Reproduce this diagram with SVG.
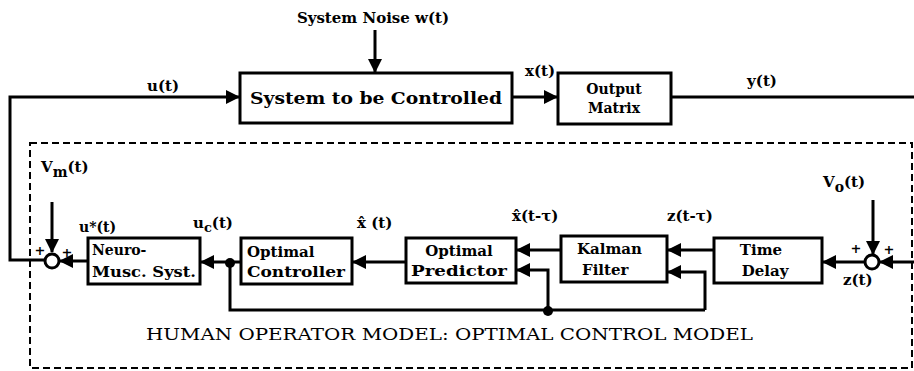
<svg xmlns="http://www.w3.org/2000/svg" width="914" height="371" viewBox="0 0 914 371">
<style>
text{font-family:"DejaVu Serif","Liberation Serif",serif;font-weight:bold;fill:#000}
.bx{fill:#fff;stroke:#000;stroke-width:3}
.ln{fill:none;stroke:#000;stroke-width:3}
.t14{font-size:14px}
.t15{font-size:15px}
.t17{font-size:17px}
.pm{font-size:13px}
.title{font-weight:normal;font-size:17px}
</style>
<defs>
<marker id="ah" markerUnits="userSpaceOnUse" markerWidth="14" markerHeight="14" refX="13" refY="7" orient="auto">
<path d="M0,0 L14,7 L0,14 z" fill="#000"/>
</marker>
</defs>
<rect x="30" y="143" width="882" height="225" fill="none" stroke="#000" stroke-width="2" stroke-dasharray="7,4"/>
<g id="connectors">
<line class="ln" x1="375" y1="30" x2="375" y2="72" marker-end="url(#ah)"/>
<polyline class="ln" points="52,260 10,260 10,97 239,97" marker-end="url(#ah)"/>
<line class="ln" x1="512" y1="97" x2="557" y2="97" marker-end="url(#ah)"/>
<line class="ln" x1="671" y1="97" x2="914" y2="97"/>
<line class="ln" x1="52" y1="202" x2="52" y2="252" marker-end="url(#ah)"/>
<line class="ln" x1="88" y1="261" x2="60" y2="261" marker-end="url(#ah)"/>
<line class="ln" x1="241" y1="262" x2="201" y2="262" marker-end="url(#ah)"/>
<line class="ln" x1="406" y1="262" x2="353" y2="262" marker-end="url(#ah)"/>
<line class="ln" x1="561" y1="250" x2="517" y2="250" marker-end="url(#ah)"/>
<polyline class="ln" points="548,310 548,270 517,270" marker-end="url(#ah)"/>
<line class="ln" x1="714" y1="250" x2="668" y2="250" marker-end="url(#ah)"/>
<polyline class="ln" points="705,310 705,272 668,272" marker-end="url(#ah)"/>
<polyline class="ln" points="230,262 230,310 705,310"/>
<line class="ln" x1="865" y1="262" x2="823" y2="262" marker-end="url(#ah)"/>
<line class="ln" x1="914" y1="262" x2="880" y2="262" marker-end="url(#ah)"/>
<line class="ln" x1="873" y1="200" x2="873" y2="254" marker-end="url(#ah)"/>
<circle cx="230" cy="263" r="5" fill="#000"/>
<circle cx="548" cy="311" r="5" fill="#000"/>
</g>
<g id="noise"><text class="t15" x="373" y="23" text-anchor="middle">System Noise w(t)</text></g>
<g id="system">
<rect class="bx" x="240" y="73" width="272" height="50"/>
<text class="t17" x="376" y="104" text-anchor="middle" textLength="252" lengthAdjust="spacingAndGlyphs">System to be Controlled</text>
</g>
<g id="output">
<rect class="bx" x="558" y="73" width="113" height="51"/>
<text class="t14" x="614" y="94" text-anchor="middle">Output</text>
<text class="t14" x="614" y="113" text-anchor="middle">Matrix</text>
</g>
<g id="sumL">
<circle cx="52" cy="261" r="7" fill="#fff" stroke="#000" stroke-width="3"/>
<text class="pm" x="40" y="255" text-anchor="middle">+</text>
<text class="pm" x="67" y="257" text-anchor="middle">+</text>
</g>
<g id="neuro">
<rect class="bx" x="88" y="238" width="112" height="46"/>
<text class="t14" x="92" y="255">Neuro-</text>
<text class="t14" x="92" y="277" textLength="104" lengthAdjust="spacingAndGlyphs">Musc. Syst.</text>
</g>
<g id="controller">
<rect class="bx" x="241" y="238" width="111" height="46"/>
<text class="t15" x="247" y="257">Optimal</text>
<text class="t15" x="247" y="277" textLength="98" lengthAdjust="spacingAndGlyphs">Controller</text>
</g>
<g id="predictor">
<rect class="bx" x="406" y="238" width="110" height="45"/>
<text class="t15" x="459" y="256" text-anchor="middle">Optimal</text>
<text class="t15" x="459" y="276" text-anchor="middle" textLength="96" lengthAdjust="spacingAndGlyphs">Predictor</text>
</g>
<g id="kalman">
<rect class="bx" x="561" y="236" width="106" height="46"/>
<text class="t15" x="577" y="254">Kalman</text>
<text class="t15" x="582" y="275">Filter</text>
</g>
<g id="delay">
<rect class="bx" x="714" y="238" width="108" height="45"/>
<text class="t15" x="761" y="255" text-anchor="middle">Time</text>
<text class="t15" x="765" y="276" text-anchor="middle">Delay</text>
</g>
<g id="sumR">
<circle cx="872" cy="262" r="7" fill="#fff" stroke="#000" stroke-width="3"/>
<text class="pm" x="856" y="253" text-anchor="middle">+</text>
<text class="pm" x="889" y="254" text-anchor="middle">+</text>
</g>
<g id="labels">
<text class="t15" x="163" y="91" text-anchor="middle">u(t)</text>
<text class="t15" x="540" y="76" text-anchor="middle">x(t)</text>
<text class="t15" x="762" y="86" text-anchor="middle">y(t)</text>
<text class="t15" x="41" y="172">V<tspan font-size="14" dy="5">m</tspan><tspan dy="-5">(t)</tspan></text>
<text class="t14" x="79" y="232">u*(t)</text>
<text class="t15" x="193" y="228">u<tspan font-size="13" dy="4">c</tspan><tspan dy="-4">(t)</tspan></text>
<text class="t15" x="357" y="228">x̂ (t)</text>
<text class="t15" x="512" y="221">x̂(t-τ)</text>
<text class="t15" x="667" y="221">z(t-τ)</text>
<text class="t15" x="823" y="187">V<tspan font-size="14" dy="5">o</tspan><tspan dy="-5">(t)</tspan></text>
<text class="t15" x="843" y="285">z(t)</text>
<text class="title" x="146" y="340" textLength="607" lengthAdjust="spacingAndGlyphs">HUMAN OPERATOR MODEL:  OPTIMAL CONTROL MODEL</text>
</g>
</svg>
